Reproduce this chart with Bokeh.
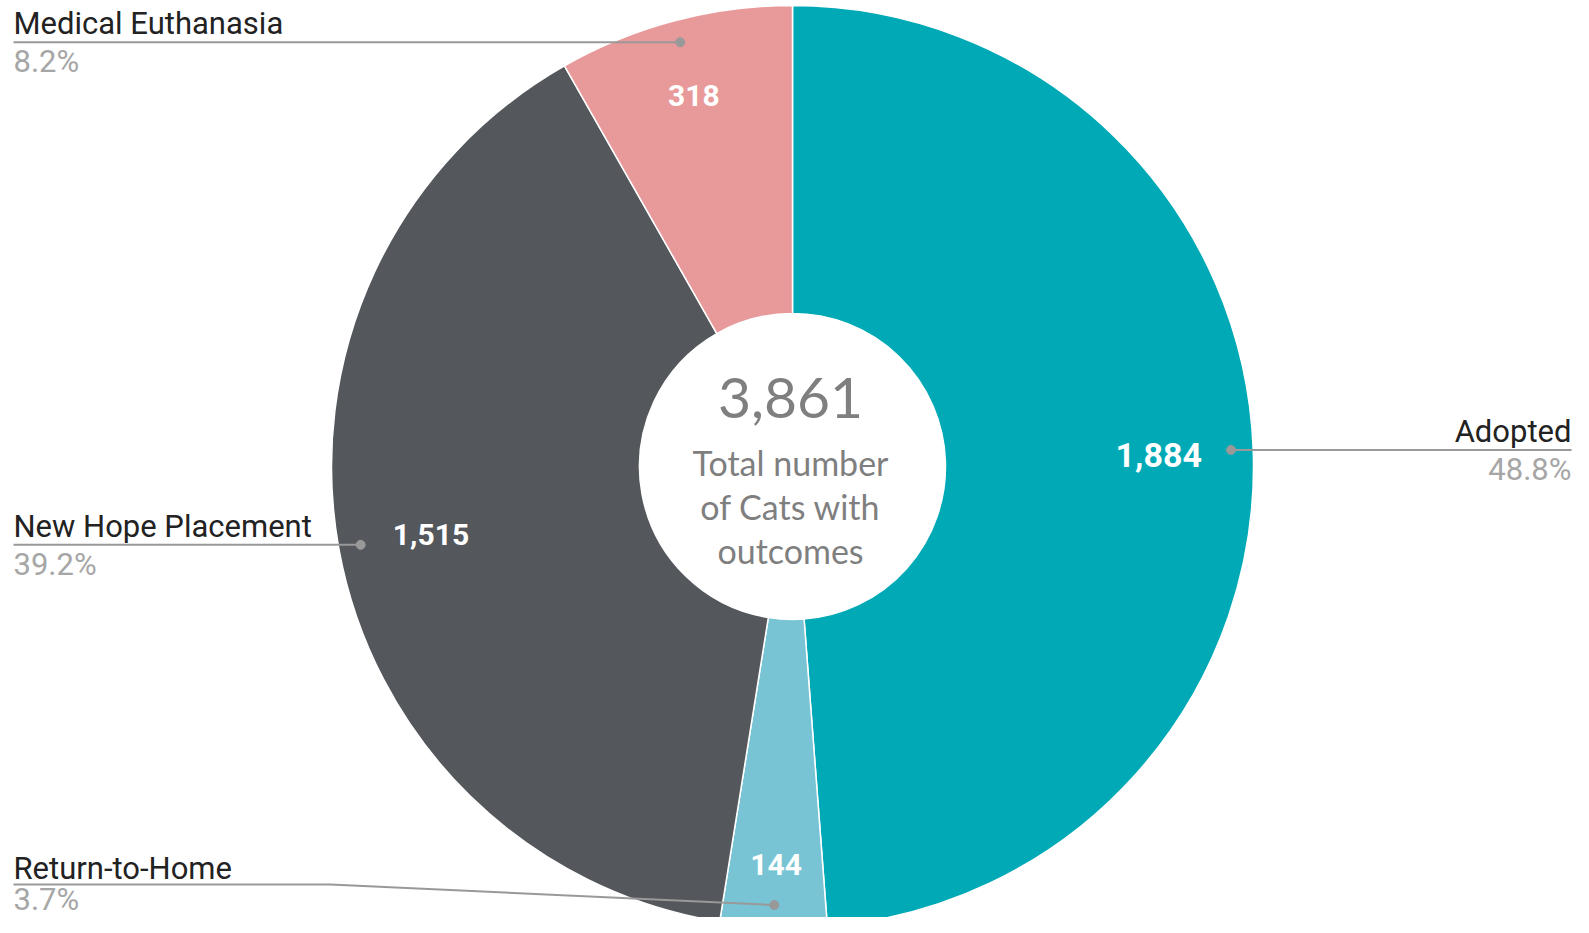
import math
from bokeh.plotting import figure
from bokeh.models import Range1d, ColumnDataSource
from bokeh.core.properties import value
from bokeh.embed import file_html
from bokeh.resources import INLINE

# ---- data ----
categories = ["Adopted", "Return-to-Home", "New Hope Placement", "Medical Euthanasia"]
counts = [1884, 144, 1515, 318]
colors = ["#00A9B6", "#79C4D4", "#54575C", "#E8999A"]
center_caption = ["Total number", "of Cats with", "outcomes"]

total = sum(counts)

# ---- layout (positions in reference pixels, y downwards) ----
W, H = 1573, 917
def FY(ry):
    return H - ry

CX, CY = 792, FY(466)
R, RI = 461, 153
DOT_R = 0.952 * R
label_r = [0.795, 0.859, 0.797, 0.837]     # inside value label radius (fraction of R)
label_fs = [34, 30, 30, 30]                 # inside value label font size (px)
side = ["right", "left", "left", "left"]
LEFT_X, RIGHT_X = 13, 1571
rth_line_ry = 884
rth_bend_x = 330
R_ASC = 0.23     # Roboto: cap top below em top (em)

p = figure(width=W, height=H, x_range=Range1d(0, W), y_range=Range1d(0, H),
           output_backend="svg", toolbar_location=None, min_border=0)
p.axis.visible = False
p.grid.visible = False
p.outline_line_color = None
p.background_fill_color = "white"
p.border_fill_color = "white"

starts, ends, mids = [], [], []
cum = 0.0
for v in counts:
    f0 = cum / total
    cum += v
    f1 = cum / total
    starts.append(math.pi / 2 - 2 * math.pi * f0)
    ends.append(math.pi / 2 - 2 * math.pi * f1)
    mids.append(math.pi / 2 - 2 * math.pi * (f0 + f1) / 2)

src = ColumnDataSource(dict(start=starts, end=ends, color=colors))
p.annular_wedge(x=CX, y=CY, inner_radius=RI, outer_radius=R, start_angle="start", end_angle="end",
                direction="clock", fill_color="color", line_color="white", line_width=1.5, source=src)

# inside value labels (text placed by its top edge)
lx, ly = [], []
for i in range(len(counts)):
    fs = label_fs[i]
    half_digit = 0.711 * fs / 2 + R_ASC * fs - 9 * fs / 30
    lx.append(CX + label_r[i] * R * math.cos(mids[i]))
    ly.append(CY + label_r[i] * R * math.sin(mids[i]) + half_digit)
lsrc = ColumnDataSource(dict(x=lx, y=ly, t=[f"{v:,}" for v in counts],
                             fs=[f"{f}px" for f in label_fs]))
p.text(x="x", y="y", text="t", text_font_size="fs", text_align="center", text_baseline="top",
       text_color="white", text_font=value("Roboto"), text_font_style="bold", source=lsrc)

# leader lines, dots and outside labels
dx = [CX + DOT_R * math.cos(m) for m in mids]
dy = [CY + DOT_R * math.sin(m) for m in mids]
grey = "#999999"
fs_out = 31
for i, name in enumerate(categories):
    pct = f"{counts[i] / total * 100:.1f}%"
    if name == "Return-to-Home":
        line_y = FY(rth_line_ry)
        xs = [LEFT_X, rth_bend_x, dx[i]]
        ys = [line_y, line_y, dy[i]]
        pct_top = FY(880)
        name_gap = 35
    else:
        line_y = dy[i]
        xs = [LEFT_X, dx[i]] if side[i] == "left" else [dx[i], RIGHT_X]
        ys = [line_y, line_y]
        pct_top = line_y - 1
        name_gap = 37
    p.line(xs, ys, line_color=grey, line_width=2)
    tx = LEFT_X if side[i] == "left" else RIGHT_X
    align = "left" if side[i] == "left" else "right"
    p.text(x=[tx], y=[line_y + name_gap], text=[name], text_align=align,
           text_baseline="top", text_color="#222222", text_font=value("Roboto"),
           text_font_size=f"{fs_out}px")
    p.text(x=[tx], y=[pct_top], text=[pct], text_align=align,
           text_baseline="top", text_color="#A6A6A6", text_font=value("Roboto"),
           text_font_size=f"{fs_out}px")

p.scatter(dx, dy, size=9, fill_color=grey, line_color=grey)

# center text
fs_big, fs_cap = 57, 34
p.text(x=[CX - 2], y=[FY(380) + 3], text=[f"{total:,}"], text_align="center",
       text_baseline="top", text_color="#7F7F7F", text_font=value("Lato"),
       text_font_size=f"{fs_big}px")
p.text(x=[CX - 2] * 3, y=[FY(441 + 44 * k) for k in range(3)], text=center_caption,
       text_align="center", text_baseline="top", text_color="#7F7F7F", text_font=value("Lato"),
       text_font_size=f"{fs_cap}px")

open("out.html", "w").write(file_html(p, INLINE))
